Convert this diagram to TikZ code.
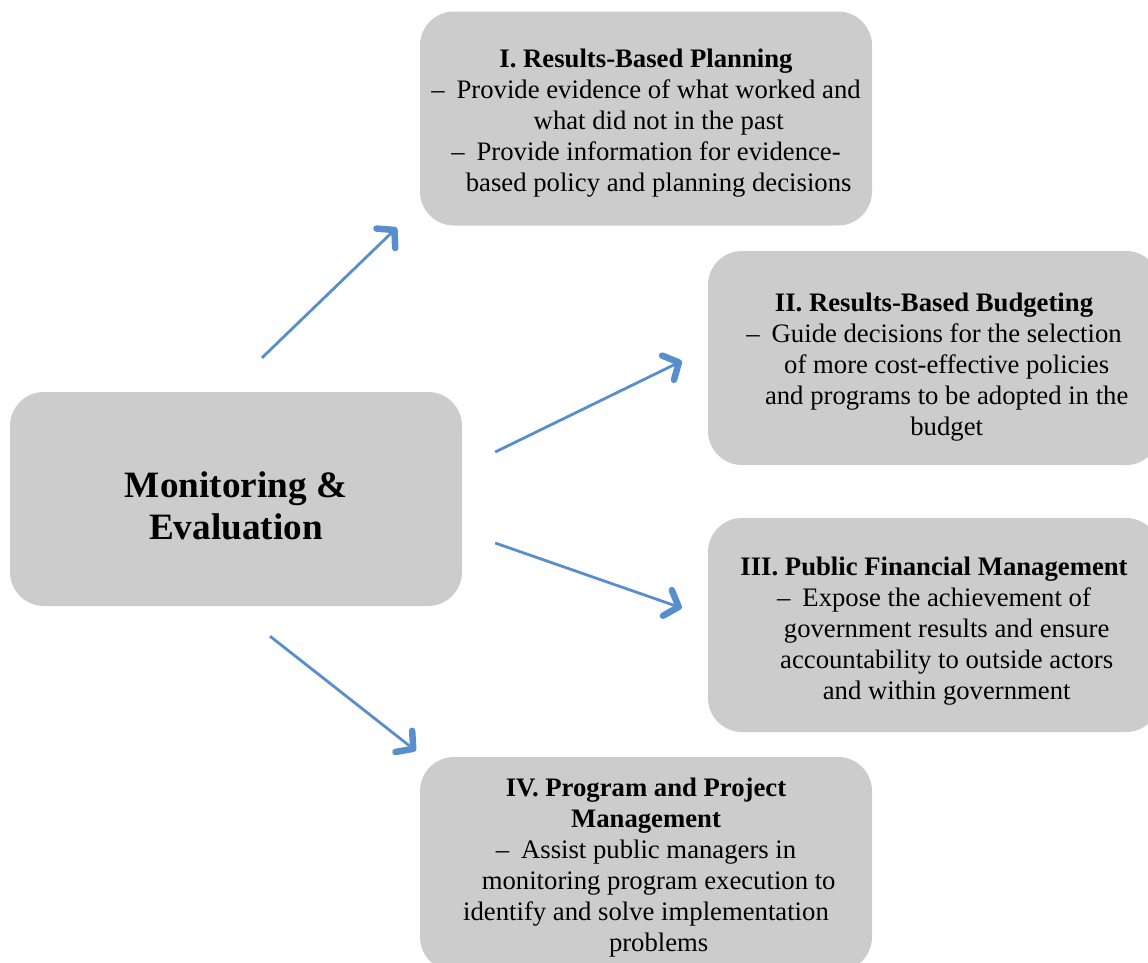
\documentclass[tikz,border=0pt]{standalone}
\usepackage{fontspec}
\setmainfont{Liberation Serif}
\usetikzlibrary{arrows.meta}
\definecolor{boxgrey}{RGB}{204,204,204}
\definecolor{arrowblue}{RGB}{88,142,203}
\newcommand{\dash}{–\hspace{0.45em}}
\newcommand{\ind}{\hphantom{\dash}}
\newcommand{\lift}[1]{\rule{0pt}{#1}}

\begin{document}
\begin{tikzpicture}[x=1pt,y=-1pt,
  box/.style={fill=boxgrey,rounded corners=34pt,minimum width=452pt,minimum height=214pt,
    inner sep=0pt,align=center,font=\fontsize{26.7}{31}\selectfont},
  flow/.style={arrowblue,line width=2.8pt,
    -{Straight Barb[length=12pt,width=27pt,line width=6.5pt,round]}}]
\useasboundingbox (0,0) rectangle (1148,962);
\node[box,font=\bfseries\fontsize{37.2}{42}\selectfont] (me) at (236,499)
  {\lift{39pt}Monitoring \&\\Evaluation};
\node[box] (plan) at (646,118.5)
  {\lift{28pt}\textbf{I. Results-Based Planning}\\
   \dash Provide evidence of what worked and\\
   \ind what did not in the past\\
   \dash Provide information for evidence-\\
   \ind based policy and planning decisions};
\node[box] (budg) at (934,358)
  {\lift{36pt}\textbf{II. Results-Based Budgeting}\\
   \dash Guide decisions for the selection\\
   \ind of more cost-effective policies\\
   \ind and programs to be adopted in the\\
   \ind budget};
\node[box] (fin) at (934,625)
  {\lift{30pt}\textbf{III. Public Financial Management}\\
   \dash Expose the achievement of\\
   \ind government results and ensure\\
   \ind accountability to outside actors\\
   \ind and within government};
\node[box] (proj) at (646,864)
  {\lift{26pt}\textbf{IV. Program and Project}\\
   \textbf{Management}\\
   \dash Assist public managers in\\
   \ind monitoring program execution to\\
   identify and solve implementation\\
   \ind problems};
% arrow ends, kept clear of the boxes
\coordinate (a1s) at ([shift={(26,-34)}]me.north);
\coordinate (a1e) at ([shift={(-23,2)}]plan.south west);
\coordinate (a2s) at ([shift={(33,-47)}]me.east);
\coordinate (a2e) at ([shift={(-26,3)}]budg.west);
\coordinate (a3s) at ([shift={(33,44)}]me.east);
\coordinate (a3e) at ([shift={(-26,-17)}]fin.west);
\coordinate (a4s) at ([shift={(34,30)}]me.south);
\coordinate (a4e) at ([shift={(-4,-6)}]proj.north west);
\draw[flow] (a1s) -- (a1e);
\draw[flow] (a2s) -- (a2e);
\draw[flow] (a3s) -- (a3e);
\draw[flow] (a4s) -- (a4e);
\end{tikzpicture}
\end{document}
